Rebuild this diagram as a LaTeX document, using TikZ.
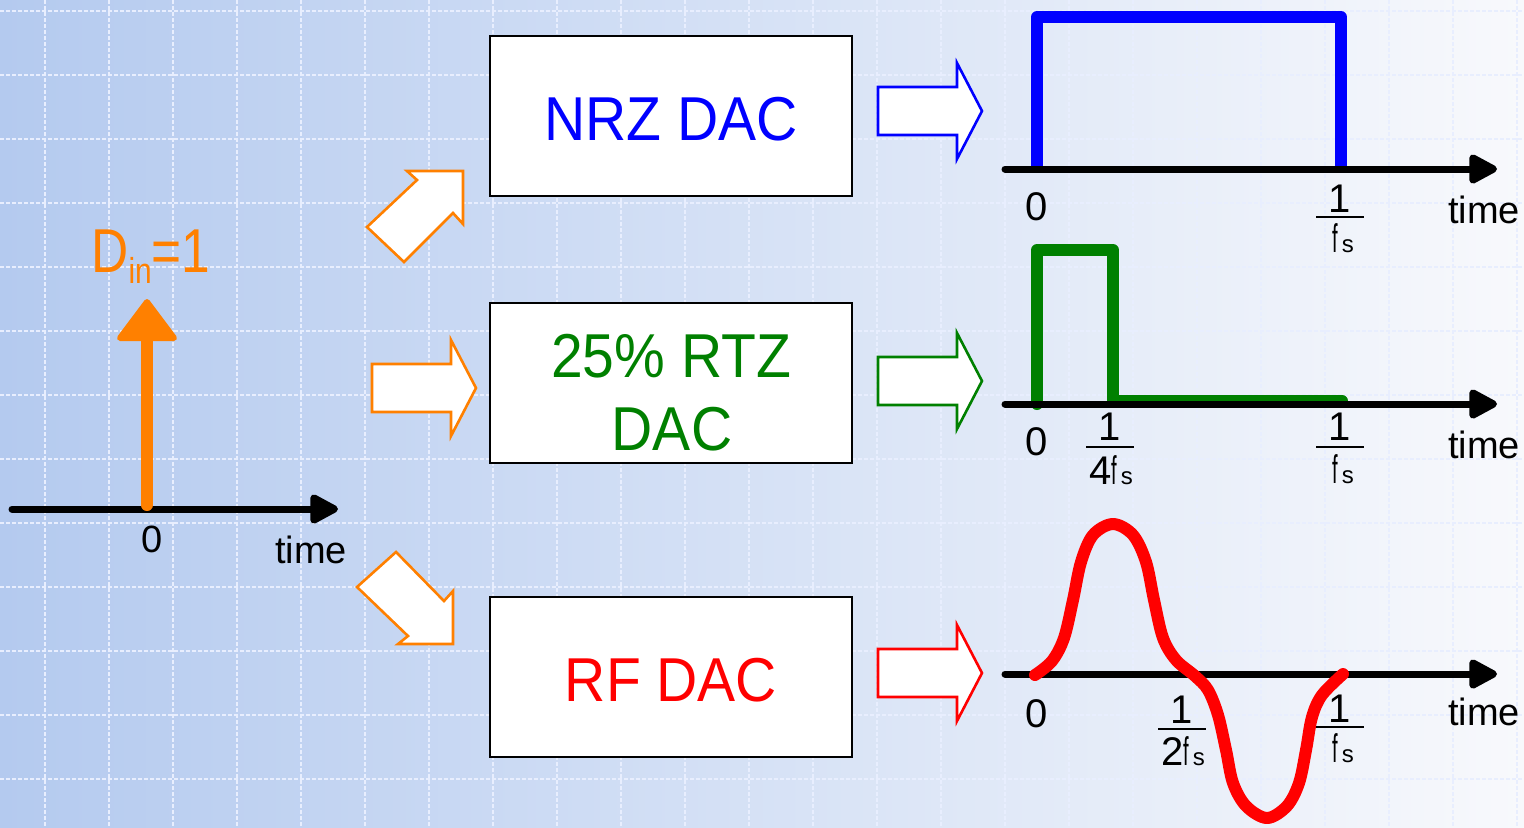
\documentclass[tikz,border=0pt]{standalone}
\usepackage{fontspec}
\usepackage{graphicx}
\setmainfont{Liberation Sans}
\usetikzlibrary{arrows.meta,calc}
\definecolor{dacorange}{RGB}{255,128,0}
\definecolor{dacblue}{RGB}{0,0,255}
\definecolor{dacgreen}{RGB}{0,128,0}
\definecolor{dacred}{RGB}{255,0,0}
\definecolor{bgl}{RGB}{180,202,239}
\definecolor{bgm}{RGB}{226,233,248}
\definecolor{bgr}{RGB}{248,249,252}
\definecolor{gridc}{RGB}{232,238,254}
\newcommand\fsub{\scalebox{0.5}[1]{f}\hspace{2pt}{\fontsize{12}{12}\selectfont s}}
\newcommand\boxtxt[1]{\scalebox{0.92}[1]{#1}}
\begin{document}
\begin{tikzpicture}[x=0.5pt,y=-0.5pt,
  dacbox/.style={draw=black, line width=1.3pt, fill=white, minimum width=181pt, minimum height=80pt, inner sep=0pt},
  boxtext/.style={anchor=base, inner sep=0pt, font=\fontsize{31}{36}\selectfont},
  axisline/.style={line width=3.5pt, line cap=round, -{Triangle[round,length=16pt,width=16pt]}},
  lbl/.style={anchor=base, inner sep=0pt, font=\fontsize{20}{24}\selectfont},
  tlbl/.style={anchor=base, inner sep=0pt, font=\fontsize{19}{24}\selectfont},
  fnum/.style={anchor=base, inner sep=0pt, font=\fontsize{20}{24}\selectfont},
  fbar/.style={line width=1pt},
  hollow/.style={fill=white, line width=1.3pt, line join=miter},
  gridline/.style={draw=gridc, line width=0.6pt, dash pattern=on 2pt off 1pt},
  pulse/.style={line width=6pt, line join=round}
]
\useasboundingbox (0,0) rectangle (1524,827);
% background
\shade[left color=bgl, middle color=bgm, right color=bgr] (0,0) rectangle (1524,827);
\foreach \gx in {45,109,...,1517} \draw[gridline] (\gx,0) -- (\gx,827);
\foreach \gy in {11,75,...,827} \draw[gridline] (0,\gy) -- (1524,\gy);

% ---------- input impulse ----------
\coordinate (a0s) at (12,509);
\coordinate (a0e) at (338,509);
\draw[axisline] (a0s) -- (a0e);
\coordinate (imp0) at (147,505);
\coordinate (imp1) at (147,336);
\draw[dacorange, line width=6pt, line cap=round] (imp0) -- (imp1);
\filldraw[dacorange, line width=3pt, line join=round] (147,302) -- (120,338) -- (174,338) -- cycle;
\node[anchor=base west, inner sep=0pt, text=dacorange, font=\fontsize{31}{36}\selectfont] (din) at (91,272)
  {\scalebox{0.83}[1]{D\raisebox{-5.5pt}{\fontsize{18}{18}\selectfont in}=1}};
\node[lbl] (zero0) at (152,552) {\fontsize{19}{22}\selectfont 0};
\node[tlbl] (time0) at (311,563) {time};

% ---------- orange hollow arrows ----------
\draw[hollow, draw=dacorange] (463,171) -- (407,171) -- (417,180) -- (367,227) -- (404,262) -- (453,213) -- (463,224) -- cycle;
\draw[hollow, draw=dacorange] (372,364) -- (451,364) -- (451,340) -- (476,388) -- (451,436) -- (451,412) -- (372,412) -- cycle;
\draw[hollow, draw=dacorange] (396,552) -- (357,587) -- (408,636) -- (398,644) -- (453,644) -- (453,591) -- (444,601) -- cycle;

% ---------- DAC boxes ----------
\node[dacbox] (nrz) at (671,116) {};
\node[boxtext, text=dacblue] (nrzt) at (671,140) {\boxtxt{NRZ DAC}};
\node[dacbox] (rtz) at (671,383) {};
\node[boxtext, text=dacgreen] (rtzt1) at (671,377) {\boxtxt{25\% RTZ}};
\node[boxtext, text=dacgreen] (rtzt2) at (672,450) {\boxtxt{DAC}};
\node[dacbox] (rf) at (671,677) {};
\node[boxtext, text=dacred] (rft) at (671,701) {\boxtxt{RF DAC}};

% ---------- output hollow arrows ----------
\foreach \c/\col in {111/dacblue, 381/dacgreen, 673/dacred}
  \draw[hollow, draw=\col] (878,\c-24) -- (957,\c-24) -- (957,\c-48) -- (982,\c) -- (957,\c+48) -- (957,\c+24) -- (878,\c+24) -- cycle;

% ---------- NRZ output ----------
\draw[pulse, dacblue] (1037,169) -- (1037,17) -- (1341,17) -- (1341,169);
\coordinate (a1s) at (1005,169);
\coordinate (a1e) at (1497,169);
\draw[axisline] (a1s) -- (a1e);
\node[lbl] (z1) at (1037,220) {0};
\node[fnum] (n1) at (1340,212) {1};
\draw[fbar] ($(n1.south)+(-24,5)$) -- ($(n1.south)+(24,5)$);
\node[fnum] (d1) at (1343,252) {\fsub};
\node[tlbl] (t1) at (1484,223) {time};

% ---------- RTZ output ----------
\draw[pulse, dacgreen, line cap=round] (1037,404) -- (1037,250) -- (1113,250) -- (1113,401) -- (1342,401);
\coordinate (a2s) at (1005,404);
\coordinate (a2e) at (1497,404);
\draw[axisline] (a2s) -- (a2e);
\node[lbl] (z2) at (1037,455) {0};
\node[fnum] (n2) at (1110,440) {1};
\draw[fbar] ($(n2.south)+(-24,7)$) -- ($(n2.south)+(24,7)$);
\node[fnum] (d2) at (1111,484) {4\fsub};
\node[fnum] (n3) at (1340,440) {1};
\draw[fbar] ($(n3.south)+(-24,7)$) -- ($(n3.south)+(24,7)$);
\node[fnum] (d3) at (1343,483) {\fsub};
\node[tlbl] (t2) at (1484,458) {time};

% ---------- RF output ----------
\coordinate (a3s) at (1005,674);
\coordinate (a3e) at (1497,674);
\draw[axisline] (a3s) -- (a3e);
\draw[pulse, dacred, line cap=round] plot[smooth, tension=0.55] coordinates {
  (1035,675) (1052,661) (1064,638) (1073,600) (1081,562) (1093,535) (1113,524)
  (1133,535) (1146,562) (1154,600) (1163,638) (1176,660) (1195,676) (1208,690)
  (1218,715) (1226,750) (1233,783) (1246,806) (1267,818) (1287,806) (1299,783)
  (1306,750) (1312,717) (1322,695) (1343,674)};
\node[lbl] (z3) at (1037,727) {0};
\node[fnum] (n4) at (1182,723) {1};
\draw[fbar] ($(n4.south)+(-24,6)$) -- ($(n4.south)+(24,6)$);
\node[fnum] (d4) at (1183,765) {2\fsub};
\node[fnum] (n5) at (1340,722) {1};
\draw[fbar] ($(n5.south)+(-24,5)$) -- ($(n5.south)+(24,5)$);
\node[fnum] (d5) at (1343,762) {\fsub};
\node[tlbl] (t3) at (1484,725) {time};
\end{tikzpicture}
\end{document}
